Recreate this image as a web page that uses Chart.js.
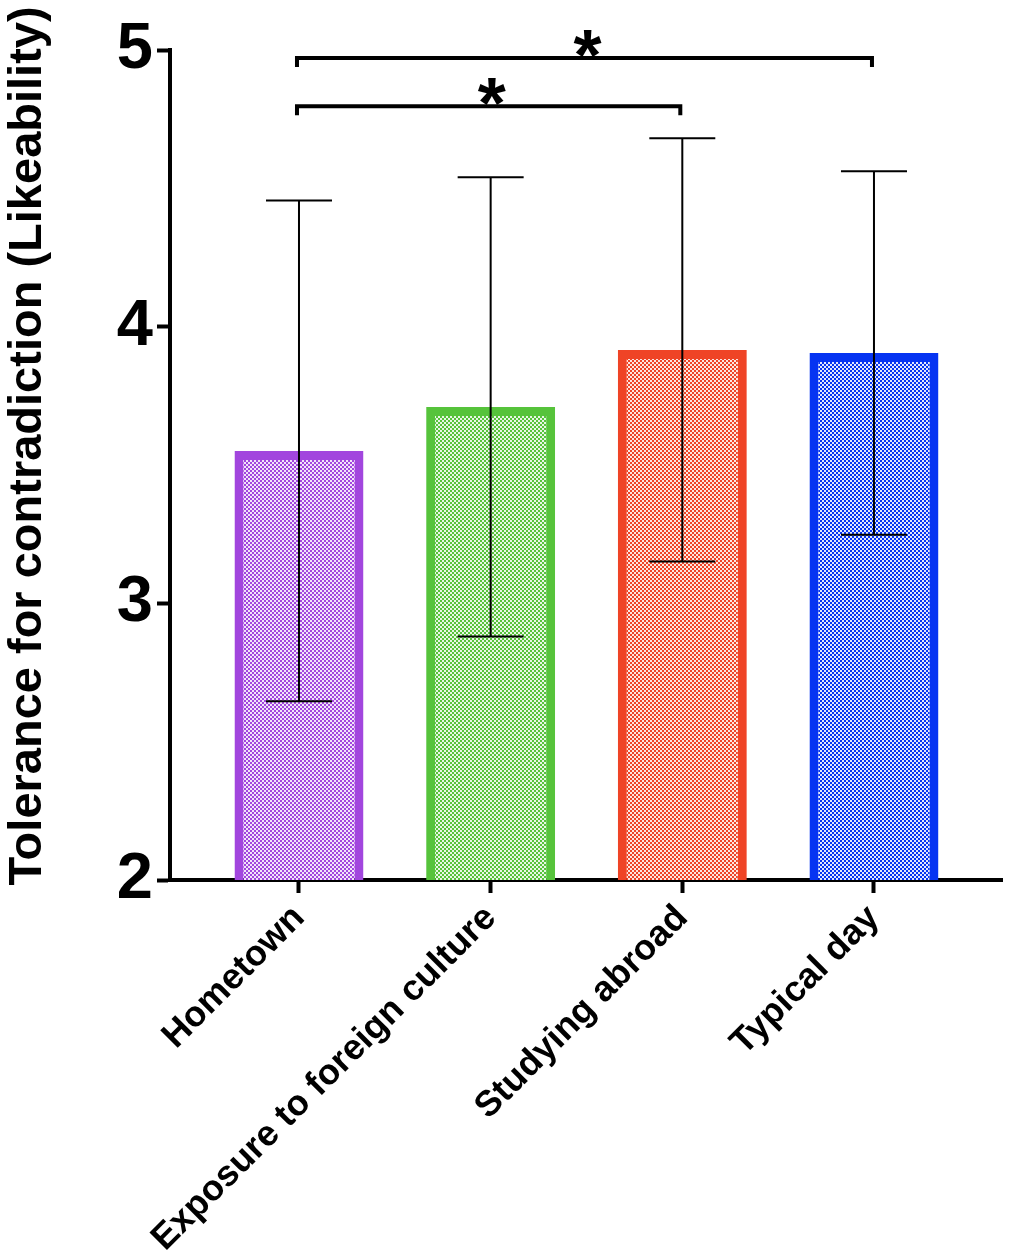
<!DOCTYPE html>
<html>
<head>
<meta charset="utf-8">
<script src="https://cdn.jsdelivr.net/npm/chart.js@4.4.1/dist/chart.umd.min.js"></script>
<style>
  html, body { margin: 0; padding: 0; background: #fff; }
  #wrap { width: 1009px; height: 1257px; }
</style>
</head>
<body>
<div id="wrap"><canvas id="chart"></canvas></div>
<script>
// data
const categories = ['Hometown', 'Exposure to foreign culture', 'Studying abroad', 'Typical day'];
const means = [3.551, 3.710, 3.916, 3.905];
const sds = [0.905, 0.830, 0.765, 0.657];
const barColors = ['#A246DE', '#56C33B', '#EF4426', '#0634F2'];
const lightColors = ['#F2E4FA', '#E8F6E4', '#FCE6E1', '#E2E8FD'];
const yTicks = [2, 3, 4, 5];

// significance brackets
const bracketFrom = [0, 0];
const bracketTo = [3, 2];
const bracketLevel = [4.971, 4.797];
const bracketLabel = ['*', '*'];

const yTitle = 'Tolerance for contradiction (Likeability)';
const FONT = "'Liberation Sans', Arial, Helvetica, sans-serif";

// checkered fill like the original hatch
function checker(color, light) {
    const c = document.createElement('canvas');
    c.width = 4; c.height = 4;
    const g = c.getContext('2d');
    g.fillStyle = light;
    g.fillRect(0, 0, 4, 4);
    g.fillStyle = color;
    g.fillRect(0, 0, 2, 2);
    g.fillRect(2, 2, 2, 2);
    return g.createPattern(c, 'repeat');
}

// error bars (mean +/- SD)
const errorBars = {
    id: 'errorBars',
    afterDatasetsDraw(chart) {
        const { ctx, scales: { x, y } } = chart;
        ctx.save();
        ctx.strokeStyle = '#000';
        ctx.lineWidth = 2;
        means.forEach((m, i) => {
            const px = x.getPixelForValue(i);
            const top = y.getPixelForValue(m + sds[i]);
            const bot = y.getPixelForValue(m - sds[i]);
            ctx.beginPath();
            ctx.moveTo(px, top); ctx.lineTo(px, bot);
            ctx.moveTo(px - 33, top); ctx.lineTo(px + 33, top);
            ctx.moveTo(px - 33, bot); ctx.lineTo(px + 33, bot);
            ctx.stroke();
        });
        ctx.restore();
    }
};

// brackets with stars + rotated y title
const annotations = {
    id: 'annotations',
    afterDraw(chart) {
        const { ctx, scales: { x, y } } = chart;
        ctx.save();
        ctx.strokeStyle = '#000';
        ctx.fillStyle = '#000';
        ctx.lineWidth = 4;
        bracketLevel.forEach((lv, i) => {
            const x1 = x.getPixelForValue(bracketFrom[i]) - 2;
            const x2 = x.getPixelForValue(bracketTo[i]) - 2;
            const py = y.getPixelForValue(lv);
            ctx.beginPath();
            ctx.moveTo(x1, py + 9);
            ctx.lineTo(x1, py);
            ctx.lineTo(x2, py);
            ctx.lineTo(x2, py + 9);
            ctx.stroke();
            ctx.font = 'bold 72px ' + FONT;
            ctx.textAlign = 'center';
            ctx.textBaseline = 'alphabetic';
            ctx.fillText(bracketLabel[i], (x1 + x2) / 2 + 3, py - 18 + 40);
        });

        ctx.translate(28, 446);
        ctx.rotate(-Math.PI / 2);
        ctx.font = 'bold 47px ' + FONT;
        ctx.textAlign = 'center';
        ctx.textBaseline = 'middle';
        ctx.fillText(yTitle, 0, 0);
        ctx.restore();
    }
};

new Chart(document.getElementById('chart'), {
    type: 'bar',
    data: {
        datasets: [{
            data: means.map((m, i) => ({ x: i, y: m })),
            backgroundColor: barColors.map((c, i) => checker(c, lightColors[i])),
            borderColor: barColors,
            borderWidth: 9,
            borderSkipped: 'start',
            barPercentage: 0.673,
            categoryPercentage: 1
        }]
    },
    options: {
        responsive: true,
        maintainAspectRatio: false,
        animation: false,
        layout: { padding: { top: 50, right: 7, left: 0, bottom: 0 } },
        plugins: { legend: { display: false }, tooltip: { enabled: false } },
        scales: {
            x: {
                type: 'linear',
                offset: false,
                min: -0.673,
                max: 3.668,
                afterBuildTicks: s => { s.ticks = categories.map((c, i) => ({ value: i })); },
                afterFit: s => { s.height = 377; },
                ticks: {
                    callback: v => categories[v],
                    autoSkip: false,
                    maxRotation: 45,
                    minRotation: 45,
                    padding: 4,
                    color: '#000',
                    font: { family: FONT, size: 36, weight: 'bold' }
                },
                grid: { offset: false, drawOnChartArea: false, tickLength: 13, tickWidth: 4, color: '#000' },
                border: { display: true, width: 4, color: '#000' }
            },
            y: {
                min: 2,
                max: 5,
                afterBuildTicks: s => { s.ticks = yTicks.map(v => ({ value: v })); },
                afterFit: s => { s.width = 170; },
                ticks: {
                    padding: 4,
                    color: '#000',
                    font: { family: FONT, size: 65, weight: 'bold' }
                },
                grid: { drawOnChartArea: false, tickLength: 13, tickWidth: 4, color: '#000' },
                border: { display: true, width: 4, color: '#000' }
            }
        }
    },
    plugins: [errorBars, annotations]
});
</script>
</body>
</html>
